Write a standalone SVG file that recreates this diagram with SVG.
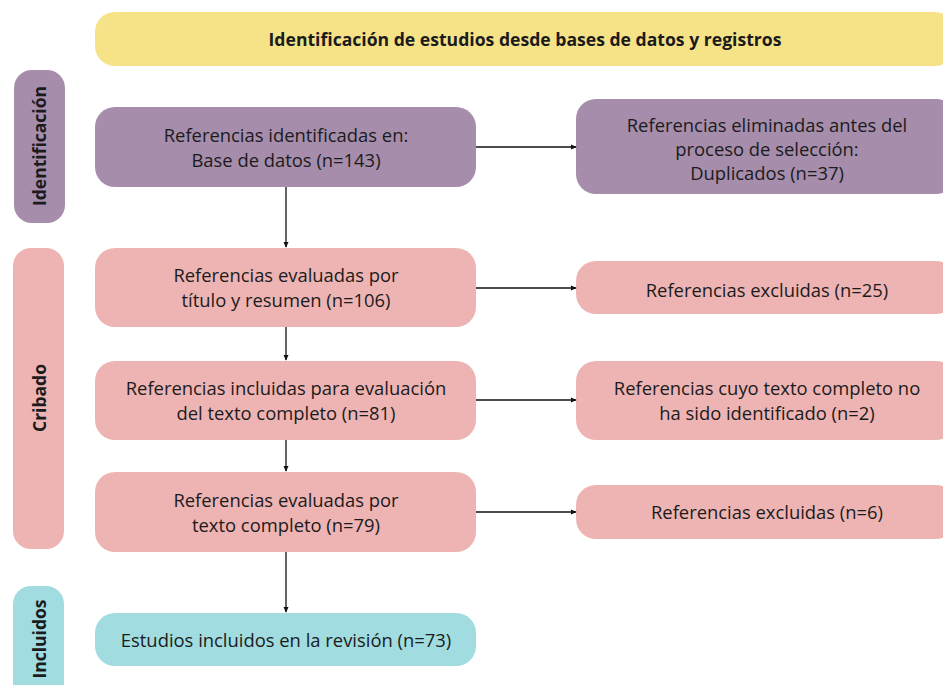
<svg xmlns="http://www.w3.org/2000/svg" width="943" height="685" viewBox="0 0 943 685">
<defs>
<style>
text{font-family:"Open Sans","Liberation Sans",sans-serif;fill:#1b1b1b;text-anchor:middle;dominant-baseline:central}
.t{font-size:18.4px}
.h{font-size:17.6px;font-weight:bold}
.s{font-size:17.5px;font-weight:bold}
.pu{fill:#A68DAB}
.pk{fill:#EEB4B3}
.ye{fill:#F6E388}
.te{fill:#A0DCE0}
.c{stroke:#111;stroke-width:1.3;fill:none;marker-end:url(#ah)}
</style>
<marker id="ah" viewBox="0 0 8 8" refX="7" refY="4" markerWidth="6" markerHeight="6" markerUnits="userSpaceOnUse" orient="auto">
<path d="M0,0.5 L8,4 L0,7.5 Z" fill="#111"/>
</marker>
</defs>
<rect width="943" height="685" fill="#fff"/>

<g id="header">
<rect class="ye" x="95" y="12" width="860" height="54" rx="20"/>
<text class="h" x="525" y="39">Identificación de estudios desde bases de datos y registros</text>
</g>

<g id="lab-identificacion">
<rect class="pu" x="14" y="70" width="51" height="153" rx="18"/>
<text class="s" transform="translate(39,146) rotate(-90)">Identificación</text>
</g>
<g id="lab-cribado">
<rect class="pk" x="13" y="248" width="51" height="301" rx="18"/>
<text class="s" transform="translate(39,398) rotate(-90)">Cribado</text>
</g>
<g id="lab-incluidos">
<rect class="te" x="13" y="586" width="51" height="130" rx="18"/>
<text class="s" transform="translate(39,639) rotate(-90)">Incluidos</text>
</g>

<g id="n1">
<rect class="pu" x="95" y="107" width="381" height="80" rx="20"/>
<text class="t" x="286" y="134">Referencias identificadas en:</text>
<text class="t" x="286" y="159">Base de datos (n=143)</text>
</g>
<g id="n2">
<rect class="pu" x="576" y="99" width="380" height="95" rx="20"/>
<text class="t" x="767" y="124">Referencias eliminadas antes del</text>
<text class="t" x="767" y="148">proceso de selección:</text>
<text class="t" x="767" y="172">Duplicados (n=37)</text>
</g>
<g id="n3">
<rect class="pk" x="95" y="248" width="381" height="79" rx="20"/>
<text class="t" x="286" y="274">Referencias evaluadas por</text>
<text class="t" x="286" y="299">título y resumen (n=106)</text>
</g>
<g id="n4">
<rect class="pk" x="576" y="261" width="380" height="53" rx="20"/>
<text class="t" x="767" y="289">Referencias excluidas (n=25)</text>
</g>
<g id="n5">
<rect class="pk" x="95" y="361" width="381" height="79" rx="20"/>
<text class="t" x="286" y="387">Referencias incluidas para evaluación</text>
<text class="t" x="286" y="412">del texto completo (n=81)</text>
</g>
<g id="n6">
<rect class="pk" x="576" y="361" width="380" height="79" rx="20"/>
<text class="t" x="767" y="387">Referencias cuyo texto completo no</text>
<text class="t" x="767" y="412">ha sido identificado (n=2)</text>
</g>
<g id="n7">
<rect class="pk" x="95" y="472" width="381" height="80" rx="20"/>
<text class="t" x="286" y="499">Referencias evaluadas por</text>
<text class="t" x="286" y="524">texto completo (n=79)</text>
</g>
<g id="n8">
<rect class="pk" x="576" y="485" width="380" height="54" rx="20"/>
<text class="t" x="767" y="511">Referencias excluidas (n=6)</text>
</g>
<g id="n9">
<rect class="te" x="95" y="613" width="381" height="53" rx="20"/>
<text class="t" x="286" y="639">Estudios incluidos en la revisión (n=73)</text>
</g>

<g id="connectors">
<line class="c" x1="286" y1="187" x2="286" y2="247"/>
<line class="c" x1="286" y1="327" x2="286" y2="360"/>
<line class="c" x1="286" y1="440" x2="286" y2="471"/>
<line class="c" x1="286" y1="552" x2="286" y2="612"/>
<line class="c" x1="476" y1="147" x2="576" y2="147"/>
<line class="c" x1="476" y1="288" x2="576" y2="288"/>
<line class="c" x1="476" y1="400" x2="576" y2="400"/>
<line class="c" x1="476" y1="512" x2="576" y2="512"/>
</g>
</svg>
